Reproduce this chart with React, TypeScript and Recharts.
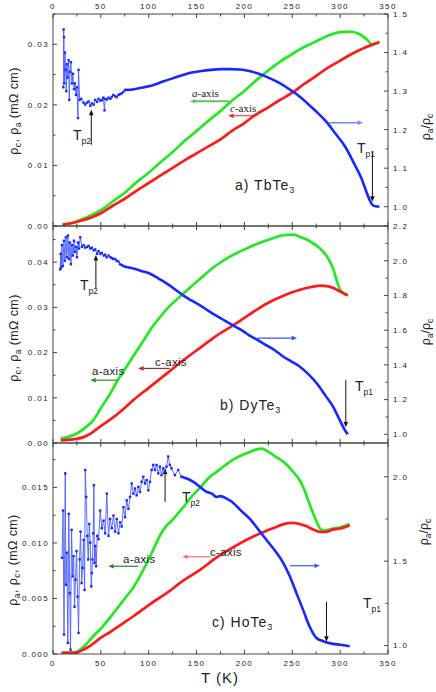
import React from 'react';
import { ComposedChart, Line, XAxis, YAxis, ReferenceLine } from 'recharts';

const W = 436;
const PLOT_L = 53;
const PLOT_R = 388;
const FONT = '"Liberation Sans", Arial, sans-serif';
const SERIF = '"Liberation Serif", "Times New Roman", serif';
const AXIS = '#444';
const GREEN = '#22ea22';
const RED = '#ff1a1a';
const BLUE = '#1428ff';
const BLUE_THIN = '#4a5cff';

// temperature ticks, shared by all panels
const xTicks = [0, 25, 50, 75, 100, 125, 150, 175, 200, 225, 250, 275, 300, 325, 350];

// ---- a) TbTe3 ----
const aLeftTicks = [0, 0.005, 0.01, 0.015, 0.02, 0.025, 0.03, 0.035];
const aRightTicks = [1.0, 1.05, 1.1, 1.15, 1.2, 1.25, 1.3, 1.35, 1.4, 1.45, 1.5];
const aGreenT = [10, 20, 30, 40, 50, 62, 75, 87, 100, 112, 125, 137, 150, 162, 175, 187, 200, 212, 225, 237, 250, 262, 275, 287, 300, 310, 320, 328, 333, 338, 341];
const aGreenV = [0.0003, 0.0005, 0.0011, 0.0018, 0.0026, 0.004, 0.0055, 0.0072, 0.0088, 0.0105, 0.0122, 0.014, 0.0157, 0.0173, 0.019, 0.0207, 0.0223, 0.024, 0.0257, 0.0271, 0.0284, 0.0295, 0.0305, 0.0314, 0.032, 0.0321, 0.0317, 0.0308, 0.03, 0.0302, 0.0305];
const aRedT = [10, 20, 30, 40, 50, 62, 75, 87, 100, 112, 125, 137, 150, 162, 175, 187, 200, 212, 225, 237, 250, 262, 275, 287, 300, 312, 325, 333, 341];
const aRedV = [0.0002, 0.0005, 0.0009, 0.0014, 0.0021, 0.0033, 0.0045, 0.0058, 0.0071, 0.0083, 0.0096, 0.0108, 0.012, 0.0131, 0.0143, 0.0157, 0.017, 0.0184, 0.0196, 0.0208, 0.022, 0.0234, 0.0248, 0.0261, 0.0273, 0.0284, 0.0294, 0.0299, 0.0303];
const aNoisyT = [
  10.8, 11.1, 11.5, 11.8, 12.5, 13.2, 13.9, 14.6, 15.3, 16.3,
  17.0, 17.7, 18.7, 19.8, 20.8, 21.9, 22.9, 24.0, 25.0, 26.1,
  26.7, 27.8, 29.5, 32.0, 33.7, 35.5, 37.2, 39.0, 40.6, 42.5,
  44.1, 46.0, 47.6, 49.5, 51.0, 52.5, 53.8, 54.5, 56.5, 58.0,
  60.0, 61.4, 63.0, 64.9, 66.5, 68.4, 70.0, 71.8, 73.5, 75.3,
];
const aNoisyR = [
  1.31, 1.46, 1.44, 1.32, 1.4, 1.355, 1.3, 1.37, 1.335, 1.38,
  1.277, 1.35, 1.375, 1.32, 1.345, 1.305, 1.32, 1.29, 1.31, 1.23,
  1.355, 1.277, 1.28, 1.27, 1.265, 1.27, 1.273, 1.262, 1.268, 1.265,
  1.277, 1.272, 1.28, 1.275, 1.277, 1.283, 1.25, 1.28, 1.278, 1.283,
  1.28, 1.285, 1.29, 1.287, 1.284, 1.29, 1.292, 1.294, 1.298, 1.303,
];
const aSmoothT = [75.3, 85, 95, 105, 115, 125, 135, 145, 155, 165, 175, 185, 195, 205, 215, 225, 235, 245, 255, 265, 275, 285, 295, 305, 315, 322, 328, 331, 334, 337, 341];
const aSmoothR = [1.303, 1.305, 1.31, 1.316, 1.325, 1.333, 1.341, 1.348, 1.352, 1.355, 1.357, 1.357, 1.356, 1.352, 1.345, 1.335, 1.323, 1.308, 1.291, 1.27, 1.247, 1.222, 1.19, 1.157, 1.11, 1.075, 1.035, 1.016, 1.004, 1.001, 1.0];
const aArrows = [
  { t1: 40, v1: 0.0134, t2: 40, v2: 0.0192, color: '#111', w: 1 },
  { t1: 184, v1: 0.0206, t2: 143, v2: 0.0206, color: 'rgba(40,160,40,0.7)', w: 2 },
  { t1: 213, v1: 0.0182, t2: 183, v2: 0.0182, color: '#ff2020', w: 1 },
  { t1: 286, v1: 0.01705, t2: 324, v2: 0.01705, color: 'rgba(50,80,255,0.7)', w: 1.5 },
  { t1: 333.7, v1: 0.0123, t2: 333.7, v2: 0.004, color: '#111', w: 1 },
];

// ---- b) DyTe3 ----
const bLeftTicks = [0, 0.005, 0.01, 0.015, 0.02, 0.025, 0.03, 0.035, 0.04, 0.045];
const bRightTicks = [1.0, 1.1, 1.2, 1.3, 1.4, 1.5, 1.6, 1.7, 1.8, 1.9, 2.0, 2.1, 2.2];
const bGreenT = [8, 15, 25, 33, 42, 50, 60, 68, 77, 86, 95, 103, 112, 120, 129, 140, 154, 170, 188, 205, 216, 230, 241, 251, 258, 265, 275, 281, 286, 290, 293, 296, 300, 304, 308];
const bGreenV = [0.001, 0.0013, 0.0021, 0.0033, 0.005, 0.0077, 0.011, 0.014, 0.0169, 0.0199, 0.0228, 0.0255, 0.0279, 0.0299, 0.0317, 0.0338, 0.0364, 0.0392, 0.0416, 0.0433, 0.0443, 0.0453, 0.046, 0.0461, 0.0456, 0.045, 0.0437, 0.0426, 0.0413, 0.0398, 0.0384, 0.0362, 0.0339, 0.033, 0.0327];
const bRedT = [8, 20, 32, 40, 49, 57, 65, 75, 84, 100, 119, 136, 154, 170, 188, 205, 223, 240, 258, 270, 279, 286, 293, 300, 308];
const bRedV = [0.0006, 0.0008, 0.0013, 0.0022, 0.0036, 0.0048, 0.006, 0.0078, 0.0095, 0.0122, 0.0154, 0.0183, 0.0211, 0.0236, 0.026, 0.0284, 0.0308, 0.0325, 0.0339, 0.0345, 0.0348, 0.0347, 0.0343, 0.0335, 0.0327];
const bNoisyT = [
  7.5, 8.0, 8.5, 9.3, 10.3, 11.4, 12.4, 13.5, 14.5, 15.6,
  16.6, 17.7, 18.7, 19.8, 20.8, 21.9, 22.9, 24.0, 25.0, 26.1,
  27.1, 28.5, 30.2, 32.0, 33.7, 35.5, 37.2, 39.0, 40.6, 42.5,
  44.1, 46.0, 47.6, 49.5, 51.0, 53.0, 54.5, 56.0, 58.0, 60.0,
  61.4, 63.0, 64.9, 66.5, 68.4, 70.0, 71.8, 73.5, 75.3,
];
const bNoisyR = [
  1.95, 2.04, 1.96, 2.09, 1.97, 2.115, 2.0, 2.135, 2.02, 2.145,
  2.01, 2.105, 1.98, 2.09, 2.03, 2.115, 2.05, 2.08, 2.02, 2.105,
  2.07, 2.135, 2.08, 2.09, 2.075, 2.08, 2.085, 2.07, 2.075, 2.06,
  2.065, 2.04, 2.055, 2.04, 2.045, 2.03, 2.035, 2.02, 2.03, 2.02,
  2.015, 2.01, 2.01, 2.0, 1.995, 1.98, 1.975, 1.97, 1.965,
];
const bSmoothT = [75.3, 84, 93, 101.5, 110, 119, 128, 136, 145, 153.6, 162, 170, 179, 188, 197, 205, 214, 223, 232, 240, 249, 258, 267, 275.7, 285, 292.6, 298, 303, 306, 308];
const bSmoothR = [1.965, 1.955, 1.94, 1.925, 1.898, 1.868, 1.833, 1.8, 1.77, 1.743, 1.713, 1.685, 1.657, 1.628, 1.6, 1.57, 1.542, 1.513, 1.483, 1.45, 1.42, 1.389, 1.345, 1.293, 1.22, 1.159, 1.1, 1.044, 1.015, 1.0];
const bArrows = [
  { t1: 44.8, v1: 0.0343, t2: 44.8, v2: 0.0416, color: '#111', w: 1 },
  { t1: 67, v1: 0.0139, t2: 39, v2: 0.0139, color: '#2e8b2e', w: 1.2 },
  { t1: 122, v1: 0.0165, t2: 89, v2: 0.0165, color: '#a52a2a', w: 1.2 },
  { t1: 213, v1: 0.0232, t2: 255, v2: 0.0232, color: '#3355ff', w: 1.2 },
  { t1: 305.9, v1: 0.0139, t2: 305.9, v2: 0.0035, color: '#111', w: 1 },
];

// ---- c) HoTe3 ----
const cLeftTicks = [0, 0.0025, 0.005, 0.0075, 0.01, 0.0125, 0.015, 0.0175];
const cRightTicks = [1.0, 1.25, 1.5, 1.75, 2.0];
const cGreenT = [9, 20, 25, 30, 36, 42, 49, 57, 66, 75, 84, 92, 101.5, 107, 112, 118, 124, 130, 136, 145, 154, 162, 171, 180, 188, 197, 206, 212, 218, 225, 232, 241, 250, 258, 263, 268, 274, 279, 283, 292, 300, 310];
const cGreenV = [0.0001, 0.00015, 0.0002, 0.0005, 0.001, 0.0016, 0.0022, 0.003, 0.004, 0.005, 0.006, 0.0072, 0.0088, 0.0098, 0.0107, 0.0115, 0.012, 0.0126, 0.0132, 0.0142, 0.015, 0.0158, 0.0164, 0.017, 0.0175, 0.0179, 0.0182, 0.0184, 0.0185, 0.0182, 0.0178, 0.0173, 0.0165, 0.0156, 0.0147, 0.0135, 0.0122, 0.0113, 0.0111, 0.0113, 0.0114, 0.0117];
const cRedT = [9, 20, 25, 32, 40, 49, 60, 72, 84, 101.5, 119, 136, 154, 171, 188, 205, 223, 232, 241, 250, 258, 265, 272, 279, 285, 292, 300, 310];
const cRedV = [0.0001, 0.0001, 0.00015, 0.0004, 0.0008, 0.0014, 0.002, 0.0027, 0.0034, 0.0045, 0.0055, 0.0066, 0.0076, 0.0087, 0.0096, 0.0104, 0.0111, 0.0114, 0.0117, 0.0118, 0.0117, 0.0115, 0.0112, 0.011, 0.011, 0.0112, 0.0113, 0.0116];
const cNoisyT = [
  9.5, 10.5, 11.5, 12.8, 13.5, 14.5, 15.5, 16.5, 17.5, 18.3,
  19.4, 20.5, 21.5, 22.5, 23.5, 24.6, 25.7, 26.7, 27.8, 28.8,
  29.9, 30.9, 32.0, 33.0, 33.7, 34.7, 35.8, 36.8, 37.9, 38.9,
  40.0, 40.6, 41.3, 42.0, 42.7, 43.4, 44.1, 45.1, 46.2, 47.6,
  49.3, 51.0, 52.8, 54.5, 56.2, 58.0, 59.7, 61.4, 63.2, 64.9,
  66.6, 68.4, 70.1, 71.8, 73.6, 75.3, 77.0, 78.8, 80.5, 82.2,
  84.0, 85.7, 87.4, 89.2, 90.9, 92.6, 94.4, 96.1, 97.8, 99.6,
  101.3, 103.0, 104.8, 106.5, 108.2, 110.0, 111.7, 113.4, 115.2, 116.9,
  118.6, 120.4, 122.1, 123.8, 127.3, 130.8, 134.2,
];
const cNoisyR = [
  1.52, 1.8, 1.065, 2.02, 1.36, 1.55, 1.016, 1.78, 1.31, 0.976,
  1.685, 1.41, 1.53, 1.23, 1.39, 1.56, 1.29, 1.075, 1.51, 1.675,
  1.37, 1.46, 1.626, 1.33, 2.04, 1.88, 1.65, 1.51, 1.72, 1.61,
  1.35, 1.43, 1.51, 1.665, 1.95, 1.49, 1.59, 1.47, 1.65, 1.63,
  1.8, 1.695, 1.74, 1.665, 1.9, 1.65, 1.75, 1.695, 1.77, 1.675,
  1.75, 1.665, 1.73, 1.705, 1.82, 1.76, 1.86, 1.81, 1.88, 1.96,
  1.9, 1.93, 1.89, 1.94, 1.91, 1.97, 2.0, 1.96, 1.98, 1.92,
  1.97, 2.04, 2.07, 2.04, 2.07, 2.02, 2.06, 2.01, 2.05, 2.03,
  2.06, 2.12, 2.07, 2.05, 2.01, 2.04, 2.0,
];
const cSmoothT = [134.2, 139.7, 146.6, 153.6, 160.5, 166, 171, 175, 181.4, 188.4, 195.3, 205.7, 216.2, 223.1, 233.5, 240.5, 247.4, 254.4, 261.4, 268.3, 275.3, 282.2, 292.6, 300, 310];
const cSmoothR = [2.0, 1.99, 1.97, 1.94, 1.91, 1.9, 1.88, 1.885, 1.87, 1.845, 1.805, 1.75, 1.675, 1.625, 1.55, 1.49, 1.41, 1.31, 1.21, 1.11, 1.045, 1.026, 1.01, 1.005, 0.996];
const cArrows = [
  { t1: 117.1, v1: 0.0137, t2: 117.1, v2: 0.0167, color: '#111', w: 1 },
  { t1: 89, v1: 0.0079, t2: 57.7, v2: 0.0079, color: '#228822', w: 1.2 },
  { t1: 164, v1: 0.00876, t2: 135, v2: 0.00876, color: 'rgba(255,60,60,0.75)', w: 1.2 },
  { t1: 247.5, v1: 0.00795, t2: 278.8, v2: 0.00795, color: '#3355ff', w: 1.2 },
  { t1: 285.7, v1: 0.0047, t2: 285.7, v2: 0.0011, color: '#111', w: 1 },
];

const pts = (ts: number[], vs: number[]) => ts.map((T, i) => ({ T, v: vs[i] }));

function AxisTick(props: any) {
  const { x, y, payload, side, major, digits, labels, gap } = props;
  const v = payload.value;
  const isMajor = Math.abs(v / major - Math.round(v / major)) < 1e-6;
  const len = isMajor ? 4 : 2.5;
  const text = labels && isMajor ? v.toFixed(digits) : '';
  const t = { fontSize: 8, letterSpacing: 1.4, fill: '#222', fontFamily: FONT };
  if (side === 'left') {
    const ax = x + gap;
    return (
      <g>
        <line x1={ax} x2={ax + len} y1={y} y2={y} stroke={AXIS} />
        {text && <text x={x} y={y} dy="0.36em" textAnchor="end" {...t}>{text}</text>}
      </g>
    );
  }
  if (side === 'right') {
    const ax = x - gap;
    return (
      <g>
        <line x1={ax} x2={ax - len} y1={y} y2={y} stroke={AXIS} />
        {text && <text x={x} y={y} dy="0.36em" textAnchor="start" {...t}>{text}</text>}
      </g>
    );
  }
  if (side === 'top') {
    const ay = y + gap;
    return (
      <g>
        <line x1={x} x2={x} y1={ay} y2={ay + len} stroke={AXIS} />
        {text && <text x={x} y={y} textAnchor="middle" {...t}>{text}</text>}
      </g>
    );
  }
  const ay = y - gap;
  return (
    <g>
      <line x1={x} x2={x} y1={ay} y2={ay - len} stroke={AXIS} />
      {text && <text x={x} y={y} dy="0.72em" textAnchor="middle" {...t}>{text}</text>}
    </g>
  );
}

const arrowShape = (color: string, w: number) => (p: any) => {
  const { x1, y1, x2, y2 } = p;
  const ang = Math.atan2(y2 - y1, x2 - x1);
  const hl = 5.5;
  const hw = 2.3;
  const bx = x2 - hl * Math.cos(ang);
  const by = y2 - hl * Math.sin(ang);
  const nx = -Math.sin(ang) * hw;
  const ny = Math.cos(ang) * hw;
  return (
    <g>
      <line x1={x1} y1={y1} x2={bx} y2={by} stroke={color} strokeWidth={w} />
      <polygon points={`${x2},${y2} ${bx + nx},${by + ny} ${bx - nx},${by - ny}`} fill={color} />
    </g>
  );
};

const SquareDot = (p: any) => (
  <rect key={`d${p.index}`} x={p.cx - 1.2} y={p.cy - 1.2} width={2.4} height={2.4} fill={BLUE} />
);

interface PanelProps {
  top: number;
  height: number;
  topH: number;
  bottomH: number;
  topLabels: boolean;
  bottomLabels: boolean;
  leftDomain: number[];
  leftTicks: number[];
  leftMajor: number;
  leftDigits: number;
  rightDomain: number[];
  rightTicks: number[];
  rightMajor: number;
  green: { T: number; v: number }[];
  red: { T: number; v: number }[];
  noisy: { T: number; v: number }[];
  smooth: { T: number; v: number }[];
  arrows: { t1: number; v1: number; t2: number; v2: number; color: string; w: number }[];
}

function Panel(p: PanelProps) {
  const axisLine = { stroke: AXIS, strokeWidth: 1 };
  return (
    <div style={{ position: 'absolute', left: 0, top: p.top, width: W, height: p.height }}>
      <ComposedChart width={W} height={p.height} margin={{ top: 0, right: 0, bottom: 0, left: 0 }}>
        <XAxis
          xAxisId="t" orientation="top" type="number" dataKey="T" domain={[0, 350]} ticks={xTicks}
          height={p.topH} allowDataOverflow interval={0} tickSize={0} tickMargin={5} tickLine={false} axisLine={axisLine}
          tick={<AxisTick side="top" major={50} digits={0} labels={p.topLabels} gap={5} />}
        />
        <XAxis
          xAxisId="b" orientation="bottom" type="number" dataKey="T" domain={[0, 350]} ticks={xTicks}
          height={p.bottomH} allowDataOverflow interval={0} tickSize={0} tickMargin={6} tickLine={false} axisLine={axisLine}
          tick={<AxisTick side="bottom" major={50} digits={0} labels={p.bottomLabels} gap={6} />}
        />
        <YAxis
          yAxisId="l" orientation="left" type="number" domain={p.leftDomain} ticks={p.leftTicks} width={PLOT_L}
          allowDataOverflow interval={0} tickSize={0} tickMargin={4} tickLine={false} axisLine={axisLine}
          tick={<AxisTick side="left" major={p.leftMajor} digits={p.leftDigits} labels gap={4} />}
        />
        <YAxis
          yAxisId="r" orientation="right" type="number" domain={p.rightDomain} ticks={p.rightTicks} width={W - PLOT_R}
          allowDataOverflow interval={0} tickSize={0} tickMargin={5} tickLine={false} axisLine={axisLine}
          tick={<AxisTick side="right" major={p.rightMajor} digits={1} labels gap={5} />}
        />
        <Line data={p.green} dataKey="v" xAxisId="b" yAxisId="l" type="monotone" stroke={GREEN} strokeWidth={2.7} dot={false} isAnimationActive={false} />
        <Line data={p.red} dataKey="v" xAxisId="b" yAxisId="l" type="monotone" stroke={RED} strokeWidth={2.7} dot={false} isAnimationActive={false} />
        <Line data={p.noisy} dataKey="v" xAxisId="t" yAxisId="r" type="linear" stroke={BLUE_THIN} strokeWidth={0.9} dot={SquareDot} isAnimationActive={false} />
        <Line data={p.smooth} dataKey="v" xAxisId="t" yAxisId="r" type="monotone" stroke={BLUE} strokeWidth={2.6} dot={false} isAnimationActive={false} />
        {p.arrows.map((a, i) => (
          <ReferenceLine
            key={i} xAxisId="b" yAxisId="l" ifOverflow="visible"
            segment={[{ x: a.t1, y: a.v1 }, { x: a.t2, y: a.v2 }]}
            shape={arrowShape(a.color, a.w)}
          />
        ))}
      </ComposedChart>
    </div>
  );
}

function Sub({ children }: { children: React.ReactNode }) {
  return <tspan fontSize={8.5} dy={3}>{children}</tspan>;
}

function Tp({ x, y, sub }: { x: number; y: number; sub: string }) {
  return (
    <text x={x} y={y} fontSize={14}>
      T<tspan fontSize={8.5} dy={4}>{sub}</tspan>
    </text>
  );
}

export default function App() {
  return (
    <div style={{ position: 'absolute', left: 0, top: 0, width: W, height: 692, background: '#fff', fontFamily: FONT }}>
      <Panel
        top={0} height={230} topH={14} bottomH={4} topLabels bottomLabels={false}
        leftDomain={[0, 0.035]} leftTicks={aLeftTicks} leftMajor={0.01} leftDigits={2}
        rightDomain={[0.95, 1.5]} rightTicks={aRightTicks} rightMajor={0.1}
        green={pts(aGreenT, aGreenV)} red={pts(aRedT, aRedV)}
        noisy={pts(aNoisyT, aNoisyR)} smooth={pts(aSmoothT, aSmoothR)} arrows={aArrows}
      />
      <Panel
        top={222} height={225} topH={4} bottomH={4} topLabels={false} bottomLabels={false}
        leftDomain={[0, 0.048]} leftTicks={bLeftTicks} leftMajor={0.01} leftDigits={2}
        rightDomain={[0.95, 2.2]} rightTicks={bRightTicks} rightMajor={0.2}
        green={pts(bGreenT, bGreenV)} red={pts(bRedT, bRedV)}
        noisy={pts(bNoisyT, bNoisyR)} smooth={pts(bSmoothT, bSmoothR)} arrows={bArrows}
      />
      <Panel
        top={439} height={253} topH={4} bottomH={38} topLabels={false} bottomLabels
        leftDomain={[0, 0.019]} leftTicks={cLeftTicks} leftMajor={0.005} leftDigits={3}
        rightDomain={[0.95, 2.2]} rightTicks={cRightTicks} rightMajor={0.5}
        green={pts(cGreenT, cGreenV)} red={pts(cRedT, cRedV)}
        noisy={pts(cNoisyT, cNoisyR)} smooth={pts(cSmoothT, cSmoothR)} arrows={cArrows}
      />
      <svg width={W} height={692} style={{ position: 'absolute', left: 0, top: 0, pointerEvents: 'none' }} fontFamily={FONT} fill="#222">
        {/* axis titles */}
        <text transform="translate(17.5,111) rotate(-90)" textAnchor="middle" fontSize={12.5} letterSpacing={0.4}>
          ρ<Sub>c</Sub><tspan dy={-3}>, ρ</tspan><Sub>a</Sub><tspan dy={-3}> (mΩ cm)</tspan>
        </text>
        <text transform="translate(429.5,127) rotate(-90)" textAnchor="middle" fontSize={12.5}>
          ρ<Sub>a</Sub><tspan dy={-3}>/ρ</tspan><Sub>c</Sub>
        </text>
        <text transform="translate(18,338) rotate(-90)" textAnchor="middle" fontSize={12.5} letterSpacing={0.4}>
          ρ<Sub>c</Sub><tspan dy={-3}>, ρ</tspan><Sub>a</Sub><tspan dy={-3}> (mΩ cm)</tspan>
        </text>
        <text transform="translate(430,332) rotate(-90)" textAnchor="middle" fontSize={12.5}>
          ρ<Sub>a</Sub><tspan dy={-3}>/ρ</tspan><Sub>c</Sub>
        </text>
        <text transform="translate(16.5,560) rotate(-90)" textAnchor="middle" fontSize={12.5} letterSpacing={0.4}>
          ρ<Sub>a</Sub><tspan dy={-3}>, ρ</tspan><Sub>c</Sub><tspan dy={-3}>, (mΩ cm)</tspan>
        </text>
        <text transform="translate(428,532) rotate(-90)" textAnchor="middle" fontSize={12.5}>
          ρ<Sub>a</Sub><tspan dy={-3}>/ρ</tspan><Sub>c</Sub>
        </text>
        <text x={220} y={683} textAnchor="middle" fontSize={15} letterSpacing={1}>T (K)</text>

        {/* a) */}
        <Tp x={73} y={140} sub="p2" />
        <Tp x={357} y={153} sub="p1" />
        <text x={192} y={97} fontFamily={SERIF} fontSize={11}><tspan fontStyle="italic">a</tspan>-axis</text>
        <text x={230} y={112} fontFamily={SERIF} fontSize={11}><tspan fontStyle="italic">c</tspan>-axis</text>
        <text x={235} y={190} fontSize={14} letterSpacing={1}>a) TbTe<tspan fontSize={9} dy={3}>3</tspan></text>

        {/* b) */}
        <Tp x={80} y={290} sub="p2" />
        <Tp x={355} y={391} sub="p1" />
        <text x={92} y={375} fontSize={11.5} letterSpacing={0.3}>a-axis</text>
        <text x={155} y={366} fontSize={11.5} letterSpacing={0.3}>c-axis</text>
        <text x={220} y={410} fontSize={14} letterSpacing={1}>b) DyTe<tspan fontSize={9} dy={3}>3</tspan></text>

        {/* c) */}
        <Tp x={182} y={502} sub="p2" />
        <Tp x={363} y={608} sub="p1" />
        <text x={123} y={563} fontSize={11.5} letterSpacing={0.3}>a-axis</text>
        <text x={210} y={556} fontSize={11.5} letterSpacing={0.3}>c-axis</text>
        <text x={212} y={627} fontSize={14} letterSpacing={1}>c) HoTe<tspan fontSize={9} dy={3}>3</tspan></text>
      </svg>
    </div>
  );
}
